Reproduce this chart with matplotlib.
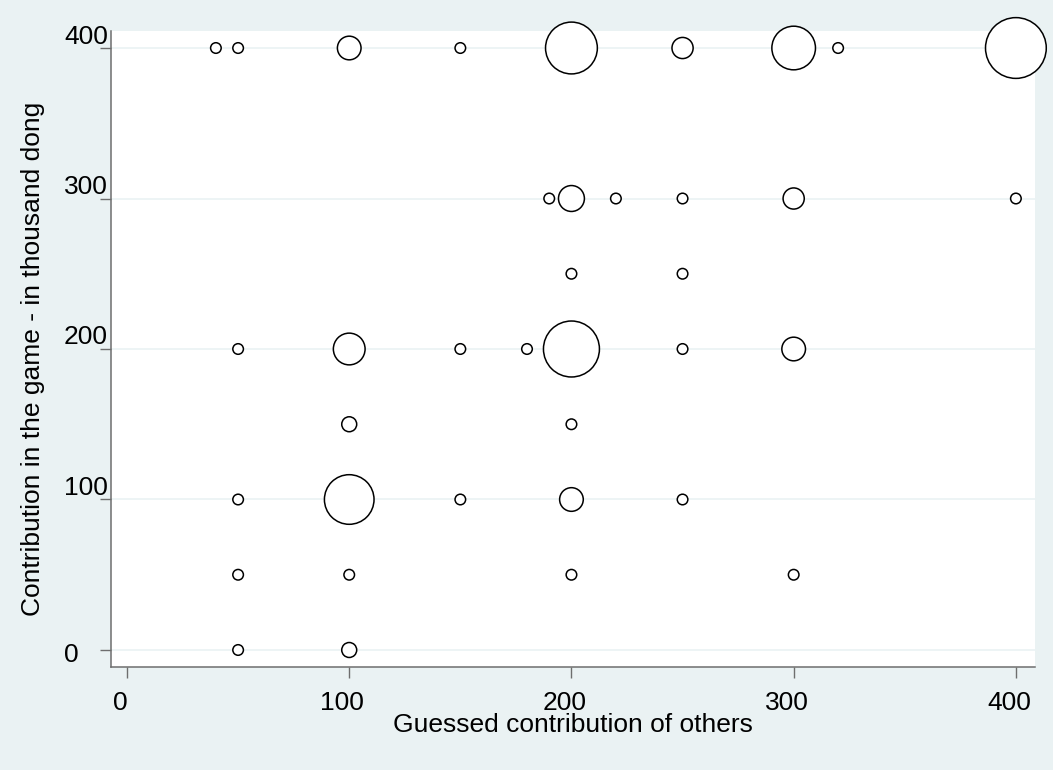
import matplotlib
matplotlib.use("Agg")
import matplotlib.pyplot as plt
import matplotlib.transforms as mtransforms
import numpy as np

# Data: guessed contribution of others (x), own contribution (y), frequency weight (w)
guess = [40, 50, 100, 150, 200, 250, 300, 320, 400,
         190, 200, 220, 250, 300, 400,
         200, 250,
         50, 100, 150, 180, 200, 250, 300,
         100, 200,
         50, 100, 150, 200, 250,
         50, 100, 200, 300,
         50, 100]
contrib = [400, 400, 400, 400, 400, 400, 400, 400, 400,
           300, 300, 300, 300, 300, 300,
           250, 250,
           200, 200, 200, 200, 200, 200, 200,
           150, 150,
           100, 100, 100, 100, 100,
           50, 50, 50, 50,
           0, 0]
weight = [1, 1, 5, 1, 24, 4, 17, 1, 33,
          1, 6, 1, 1, 4, 1,
          1, 1,
          1, 9, 1, 1, 28, 1, 5,
          2, 1,
          1, 22, 1, 5, 1,
          1, 1, 1, 1,
          1, 2]

xticks = [0, 100, 200, 300, 400]
yticks = [0, 100, 200, 300, 400]
xlabel = "Guessed contribution of others"
ylabel = "Contribution in the game - in thousand dong"

BG = "#EAF2F3"
AXC = "#6e6e6e"
plt.rcParams["font.family"] = ["Liberation Sans", "DejaVu Sans"]

W, H, DPI = 1053, 770, 100
L, R, T, B = 111, 1035, 31, 667
fig = plt.figure(figsize=(W / DPI, H / DPI), dpi=DPI, facecolor=BG)
ax = fig.add_axes([L / W, 1 - B / H, (R - L) / W, (B - T) / H])
ax.set_facecolor("white")

ax.set_xlim(-7.2, 408.6)
ax.set_ylim(-11.3, 411.3)

s1 = 58.0
sizes = np.array(weight) * s1
ax.scatter(guess, contrib, s=sizes, facecolors="white", edgecolors="black",
           linewidths=1.1, zorder=3, clip_on=False)

for side in ["top", "right"]:
    ax.spines[side].set_visible(False)
for side in ["left", "bottom"]:
    ax.spines[side].set_color(AXC)
    ax.spines[side].set_linewidth(1.1)

ax.set_xticks(xticks)
ax.set_yticks(yticks)
ax.set_xticklabels([str(v) for v in xticks])
ax.set_yticklabels([str(v) for v in yticks])
ax.tick_params(axis="both", direction="out", length=8, width=1.0, color=AXC,
               labelsize=19, labelcolor="black")
ax.tick_params(axis="x", pad=9)
ax.tick_params(axis="y", pad=0)
ax.yaxis.grid(True, color=BG, linewidth=1.2)
ax.xaxis.grid(False)
ax.set_axisbelow(True)

# Stata-like y tick label placement: left aligned at a fixed x, nudged up
for t, v in zip(ax.yaxis.get_major_ticks(), yticks):
    dy_px = -3 if v == 0 else 14
    off = mtransforms.ScaledTranslation(-(L - 64) / DPI, dy_px / DPI, fig.dpi_scale_trans)
    t.label1.set_horizontalalignment("left")
    t.label1.set_transform(ax.get_yaxis_transform(which="tick1") + off)
    t.label1.set_x(0)

for t in ax.xaxis.get_major_ticks():
    off = mtransforms.ScaledTranslation(-7 / DPI, 0, fig.dpi_scale_trans)
    t.label1.set_transform(t.label1.get_transform() + off)

ax.set_xlabel(xlabel, fontsize=19)
ax.xaxis.set_label_coords(0.5, -(725 - B) / (B - T), transform=ax.transAxes)
ax.xaxis.label.set_verticalalignment("center")
ax.set_ylabel(ylabel, fontsize=19)
ax.yaxis.set_label_coords(-(L - 33) / (R - L), 0.485)
ax.yaxis.label.set_verticalalignment("center")

fig.savefig("out.png", dpi=DPI, facecolor=BG)
